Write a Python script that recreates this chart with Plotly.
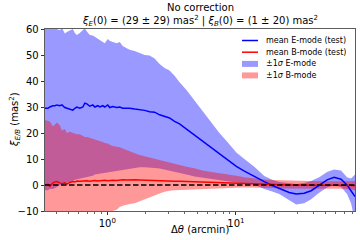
import plotly.graph_objects as go

# angular separation (arcmin)
theta = [0.328, 0.346, 0.358, 0.378, 0.392, 0.406, 0.428, 0.444, 0.468, 0.485,
         0.512, 0.540, 0.560, 0.580, 0.612, 0.646, 0.669, 0.694, 0.732, 0.772,
         0.800, 0.844, 0.875, 0.923, 0.956, 1.009, 1.046, 1.103, 1.185, 1.250,
         1.319, 1.416, 1.494, 1.634, 1.786, 1.953, 2.135, 2.334, 2.553, 2.791,
         3.051, 3.336, 3.648, 4.133, 4.768, 5.500, 6.457, 7.448, 8.593, 10.09,
         11.64, 13.91, 16.63, 19.18, 21.74, 25.98, 29.44, 33.96, 38.48, 44.40,
         51.21, 58.02, 65.74, 73.16, 78.6, 84.4]

e_mean = [29.5, 29.5, 30.0, 30.5, 30.5, 30.8, 30.5, 30.8, 29.8, 29.5,
          29.0, 28.8, 29.5, 30.0, 29.5, 30.0, 31.5, 31.2, 30.3, 30.8,
          30.0, 30.5, 30.0, 30.5, 30.0, 30.8, 29.8, 30.2, 29.8, 30.0,
          29.5, 29.5, 29.5, 29.2, 29.0, 28.7, 28.2, 28.0, 27.0, 26.5,
          25.8, 24.5, 23.5, 21.5, 19.2, 16.8, 14.2, 11.8, 9.5, 7.2,
          5.3, 3.2, 1.3, -0.2, -1.3, -2.9, -3.5, -3.2, -2.2, -0.2,
          2.0, 3.0, 2.2, 0.0, -2.2, -4.5]

e_upper = [62.0, 61.5, 61.0, 60.0, 60.5, 60.0, 59.5, 60.5, 58.3, 58.8,
           59.5, 60.0, 58.5, 57.7, 58.5, 59.5, 60.3, 59.0, 57.7, 57.5,
           57.0, 56.4, 56.0, 55.0, 54.5, 56.2, 55.5, 55.0, 54.5, 55.0,
           53.5, 52.6, 52.0, 51.5, 50.6, 50.0, 49.8, 48.7, 46.5, 45.0,
           44.0, 42.0, 39.5, 36.5, 32.5, 28.5, 24.0, 20.0, 16.5, 12.5,
           10.0, 7.0, 3.5, 2.0, 1.2, 0.6, 0.4, 0.8, 1.5, 3.0,
           5.0, 6.0, 5.6, 3.0, 2.5, 4.0]

e_lower = [-2.0, -2.0, -1.5, -1.5, -1.0, -0.8, 0.0, 0.3, 0.8, 1.0,
           1.2, 1.5, 2.0, 2.2, 2.5, 2.8, 3.0, 3.2, 3.3, 3.6,
           4.0, 4.2, 4.4, 4.5, 4.6, 4.8, 5.0, 5.2, 5.5, 5.7,
           5.9, 6.1, 6.3, 6.5, 6.8, 6.8, 6.7, 6.5, 6.3, 6.0,
           5.6, 5.2, 4.6, 4.0, 3.3, 2.7, 2.2, 1.8, 1.4, 1.0,
           0.8, 0.2, -1.5, -2.5, -3.5, -5.8, -7.5, -7.0, -5.5, -3.0,
           -1.0, 0.0, -0.8, -3.5, -7.0, -14.0]

b_mean = [0.0, 0.3, -0.5, 0.8, 1.2, 1.3, 0.8, 0.5, 0.8, 0.3,
          1.0, 1.3, 1.2, 1.5, 1.4, 1.5, 1.3, 1.6, 1.4, 1.5,
          1.7, 1.5, 1.6, 1.5, 1.8, 1.6, 1.7, 1.8, 1.7, 1.9,
          2.0, 1.9, 2.0, 2.0, 1.9, 1.8, 1.8, 1.7, 1.7, 1.6,
          1.5, 1.4, 1.4, 1.3, 1.2, 1.1, 1.0, 0.9, 0.8, 0.6,
          0.5, 0.3, 0.2, 0.1, 0.1, 0.0, 0.0, 0.0, -0.1, -0.1,
          -0.1, 0.0, 0.0, 0.0, -0.2, -0.3]

b_upper = [25.0, 24.5, 24.4, 22.5, 23.5, 24.0, 23.0, 21.0, 21.5, 20.0,
           20.5, 20.0, 19.8, 19.5, 19.5, 19.0, 18.5, 18.5, 18.0, 17.8,
           17.5, 17.2, 17.0, 16.5, 16.2, 16.0, 15.5, 15.0, 14.7, 14.5,
           14.0, 13.5, 13.0, 12.2, 11.5, 11.0, 10.5, 10.0, 9.5, 9.0,
           8.6, 8.2, 7.7, 7.0, 6.4, 5.6, 5.0, 4.6, 4.2, 3.6,
           3.0, 2.5, 2.1, 1.9, 1.8, 1.6, 1.5, 1.5, 1.5, 1.4,
           1.4, 1.3, 1.3, 1.4, 1.4, 1.5]

b_lower = [-25.0, -24.0, -23.5, -23.0, -22.5, -22.0, -21.5, -21.0, -20.5, -20.0,
           -19.5, -19.0, -18.5, -18.2, -18.0, -17.0, -16.5, -16.0, -15.5, -15.0,
           -14.5, -14.0, -13.5, -12.5, -11.5, -11.0, -10.5, -10.0, -9.5, -8.5,
           -8.0, -7.5, -7.3, -7.0, -6.3, -5.5, -4.8, -4.0, -3.3, -2.6,
           -2.2, -2.0, -1.8, -1.7, -1.6, -1.5, -1.4, -1.3, -1.2, -1.1,
           -1.0, -1.0, -1.1, -1.2, -1.3, -1.4, -1.5, -1.5, -1.5, -1.5,
           -1.4, -1.4, -1.4, -1.5, -1.7, -2.0]

x_ticks = [1, 10]
x_ticktext = ["10<sup>0</sup>", "10<sup>1</sup>"]
x_minor = [0.4, 0.5, 0.6, 0.7, 0.8, 0.9, 2, 3, 4, 5, 6, 7, 8, 9, 20, 30, 40, 50, 60, 70, 80]
y_ticks = [-10, 0, 10, 20, 30, 40, 50, 60]
y_ticktext = ["\u221210", "0", "10", "20", "30", "40", "50", "60"]

legend_labels = ["mean E-mode (test)", "mean B-mode (test)",
                 "\u00b11<i>\u03c3</i> E-mode", "\u00b11<i>\u03c3</i> B-mode"]

FONT = "DejaVu Sans"
W, H = 360, 240
L, R, T, B = 45, 5, 29, 29
PW, PH = W - L - R, H - T - B


def px(xp):
    return (xp - L) / PW


def py(yp):
    return (H - B - yp) / PH


fig = go.Figure()

fig.add_trace(go.Scatter(
    x=theta + theta[::-1], y=e_upper + e_lower[::-1],
    fill="toself", fillcolor="rgba(0,0,255,0.4)", line=dict(width=0),
    mode="lines", name=legend_labels[2], showlegend=False, hoverinfo="skip"))
fig.add_trace(go.Scatter(
    x=theta + theta[::-1], y=b_upper + b_lower[::-1],
    fill="toself", fillcolor="rgba(255,0,0,0.4)", line=dict(width=0),
    mode="lines", name=legend_labels[3], showlegend=False, hoverinfo="skip"))
fig.add_trace(go.Scatter(
    x=theta, y=e_mean, mode="lines", line=dict(color="#0000ff", width=1.5),
    name=legend_labels[0], showlegend=False))
fig.add_trace(go.Scatter(
    x=theta, y=b_mean, mode="lines", line=dict(color="#ff0000", width=1.5),
    name=legend_labels[1], showlegend=False))

fig.add_hline(y=0, line=dict(color="black", width=1.5, dash="5.5px,2.5px"), layer="above")

# legend (drawn by hand to match compact matplotlib spacing)
shapes = [dict(type="rect", xref="paper", yref="paper",
               x0=px(238), x1=px(352.5), y0=py(33), y1=py(83.5),
               fillcolor="rgba(255,255,255,0.8)", line=dict(color="#cccccc", width=0.8),
               layer="above")]
rows_y = [40.5, 52.2, 63.9, 75.4]
swatch = [("line", "#0000ff"), ("line", "#ff0000"),
          ("rect", "rgba(0,0,255,0.4)"), ("rect", "rgba(255,0,0,0.4)")]
annotations = []
for (kind, col), ry, lab in zip(swatch, rows_y, legend_labels):
    if kind == "line":
        shapes.append(dict(type="line", xref="paper", yref="paper",
                           x0=px(242), x1=px(258), y0=py(ry), y1=py(ry),
                           line=dict(color=col, width=1.5), layer="above"))
    else:
        shapes.append(dict(type="rect", xref="paper", yref="paper",
                           x0=px(242), x1=px(258), y0=py(ry + 3), y1=py(ry - 3),
                           fillcolor=col, line=dict(width=0), layer="above"))
    annotations.append(dict(text=lab, xref="paper", yref="paper", x=px(264), y=py(ry),
                            xanchor="left", yanchor="middle", showarrow=False,
                            font=dict(family=FONT, size=8, color="black")))

# titles
annotations += [
    dict(text="No correction", xref="paper", yref="paper", x=px(200), y=py(7.5),
         xanchor="center", yanchor="middle", showarrow=False,
         font=dict(family=FONT, size=10, color="black")),
    dict(text="<i>\u03be<sub>E</sub></i>(0) = (29 \u00b1 29) mas<sup>2</sup> | "
              "<i>\u03be<sub>B</sub></i>(0) = (1 \u00b1 20) mas<sup>2</sup>",
         xref="paper", yref="paper", x=px(200), y=py(21),
         xanchor="center", yanchor="middle", showarrow=False,
         font=dict(family=FONT, size=10, color="black")),
    dict(text="\u0394<i>\u03b8</i> (arcmin)", xref="paper", yref="paper", x=px(200), y=py(229),
         xanchor="center", yanchor="middle", showarrow=False,
         font=dict(family=FONT, size=10, color="black")),
    dict(text="<i>\u03be<sub>E/B</sub></i> (mas<sup>2</sup>)", xref="paper", yref="paper",
         x=px(15), y=py(120), xanchor="center", yanchor="middle", textangle=-90,
         showarrow=False, font=dict(family=FONT, size=10, color="black")),
]

fig.update_layout(
    width=W, height=H,
    margin=dict(l=L, r=R, t=T, b=B, autoexpand=False),
    paper_bgcolor="white", plot_bgcolor="white",
    font=dict(family=FONT, size=10, color="black"),
    showlegend=False, hovermode=False,
    shapes=shapes, annotations=annotations,
    xaxis=dict(
        type="log", range=[-0.4841, 1.9263], automargin=False,
        tickvals=x_ticks, ticktext=x_ticktext,
        ticks="outside", ticklen=3.5, tickwidth=0.8, tickcolor="black",
        minor=dict(tickvals=x_minor, ticks="outside", ticklen=2, tickwidth=0.6, tickcolor="black"),
        showline=True, linecolor="#333333", linewidth=0.8, mirror=True,
        showgrid=False, zeroline=False, tickfont=dict(size=10)),
    yaxis=dict(
        range=[-10, 60], automargin=False,
        tickvals=y_ticks, ticktext=y_ticktext,
        ticks="outside", ticklen=3.5, tickwidth=0.8, tickcolor="black",
        showline=True, linecolor="#333333", linewidth=0.8, mirror=True,
        showgrid=False, zeroline=False, tickfont=dict(size=10)),
)

fig.write_html("out.html", config={"displayModeBar": False, "staticPlot": True},
               post_script="document.body.style.margin='0';document.body.style.overflow='hidden';")
